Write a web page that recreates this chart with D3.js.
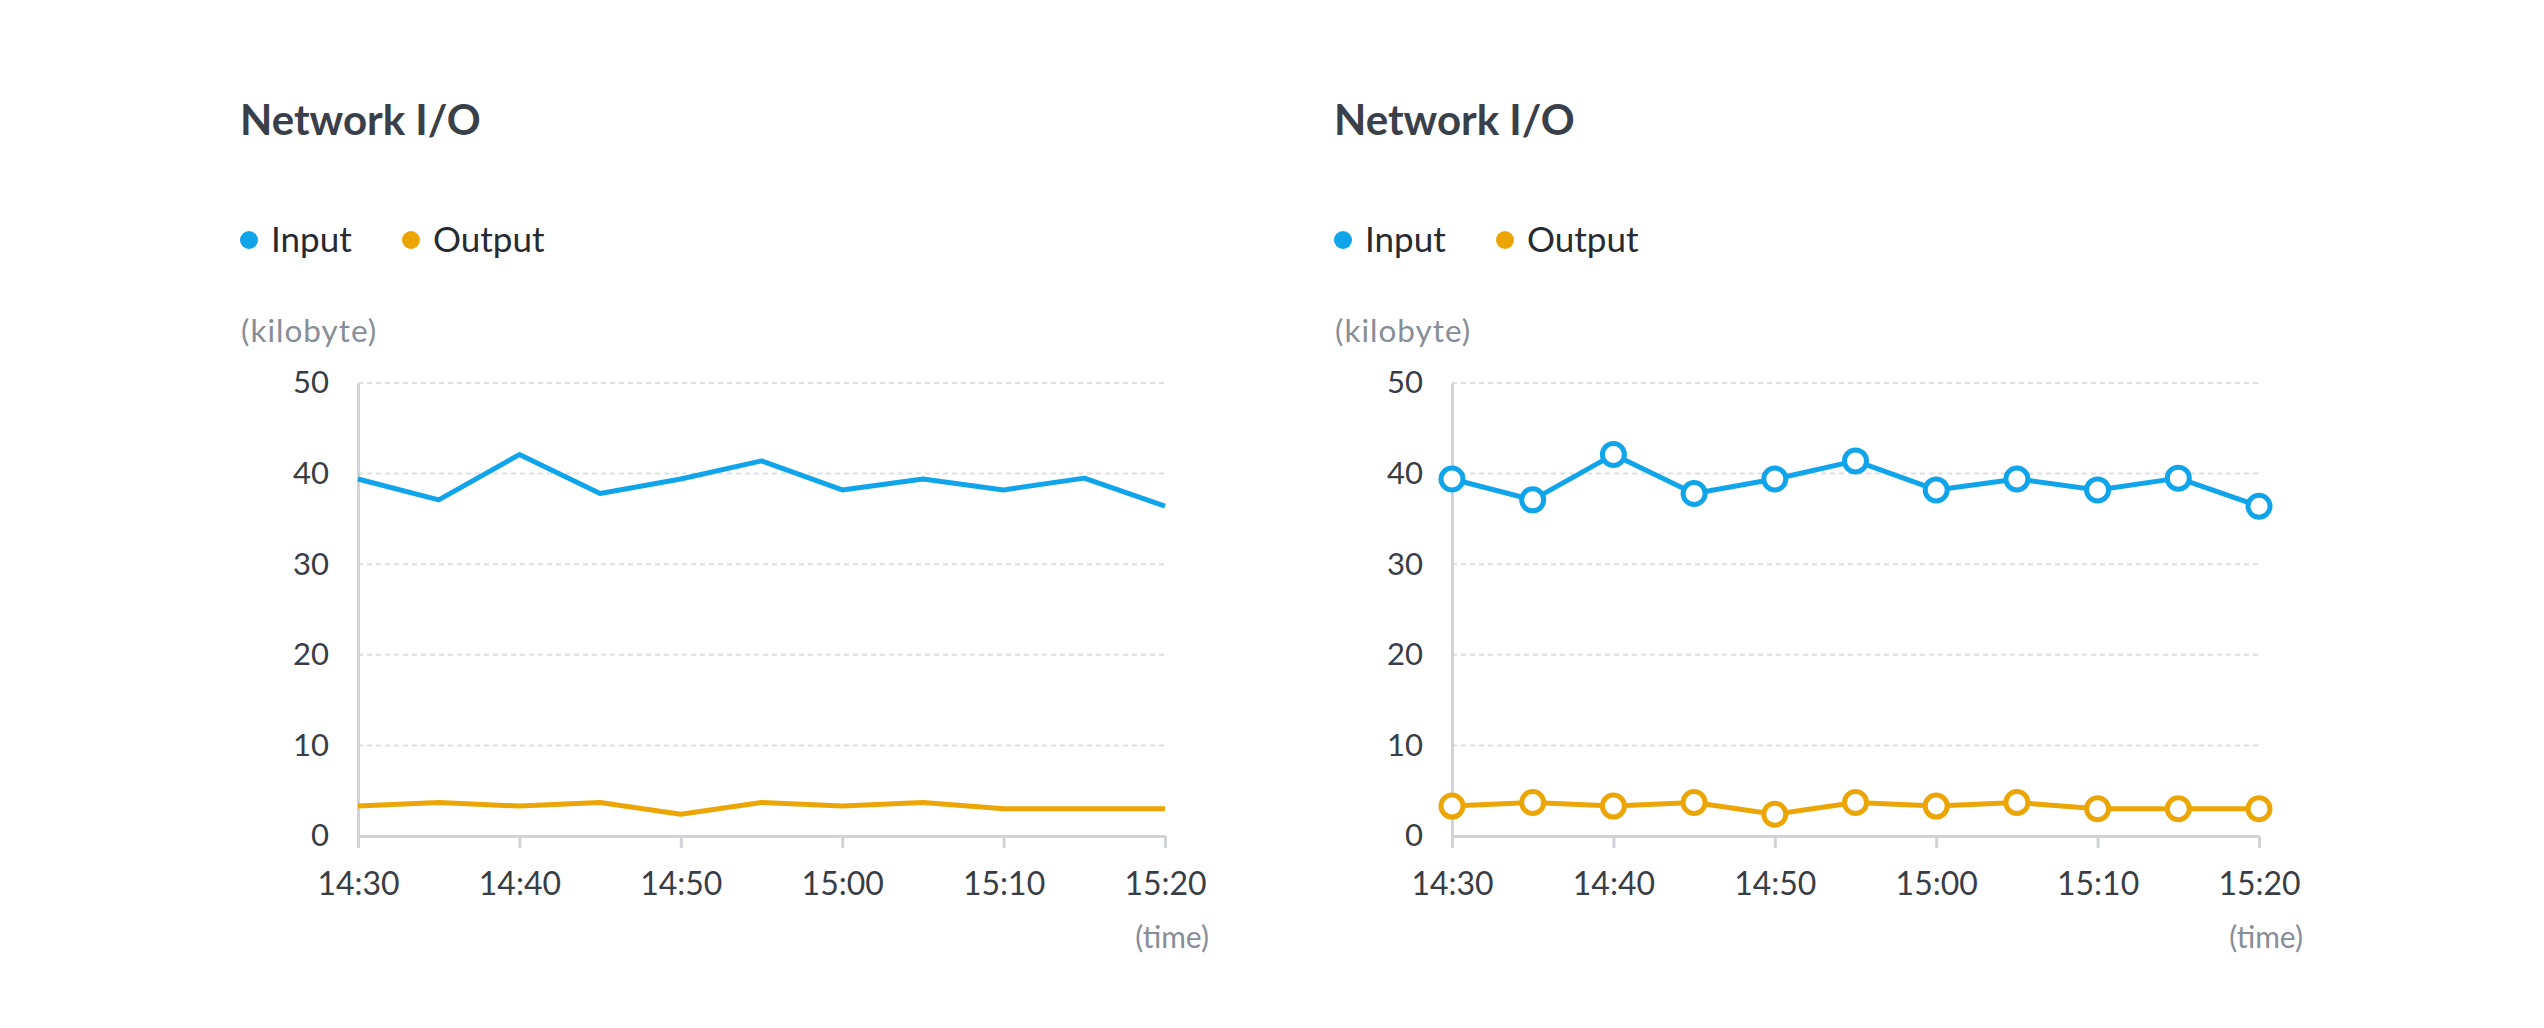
<!DOCTYPE html>
<html>
<head>
  <style type="text/css">
    body { margin: 0; background: #fff; }
    svg text { font-family: Lato, "Open Sans", sans-serif; }
  </style>
</head>
<body>
  <svg width="2544" height="1028" id="chart"></svg>

  <script src="https://d3js.org/d3.v7.min.js"></script>
  <script>

// values
const times = ['14:30', '14:35', '14:40', '14:45', '14:50', '14:55', '15:00', '15:05', '15:10', '15:15', '15:20']
const inputValues = [39.4, 37.1, 42.1, 37.8, 39.4, 41.4, 38.2, 39.4, 38.2, 39.5, 36.4]
const outputValues = [3.3, 3.7, 3.3, 3.7, 2.4, 3.7, 3.3, 3.7, 3.0, 3.0, 3.0]
const seriesNames = ['Input', 'Output']
const seriesColors = ['#10a5ea', '#eba605']
const yTicks = [0, 10, 20, 30, 40, 50]
const xTicks = ['14:30', '14:40', '14:50', '15:00', '15:10', '15:20']

const parse = d3.timeParse('%H:%M')

function translate(x, y) { return 'translate(' + x + ',' + y + ')'; }

function Panel(svg, offsetX, withDots) {
  let g = svg.append('g').attr('transform', translate(offsetX, 0))
  let left = 358, right = 1165, top = 383, bottom = 836

  let x = d3.scaleTime()
    .domain([parse(times[0]), parse(times[times.length - 1])])
    .range([left, right])
  let y = d3.scaleLinear().domain([0, 50]).range([bottom, top])

  g.append('text')
    .attr('x', 240).attr('y', 135)
    .attr('font-size', 42).attr('font-weight', 700)
    .attr('fill', '#3a404a')
    .text('Network I/O')

  // legend
  let legendX = [249, 411]
  seriesNames.forEach((name, i) => {
    g.append('circle')
      .attr('cx', legendX[i]).attr('cy', 240).attr('r', 9)
      .attr('fill', seriesColors[i])
    g.append('text')
      .attr('x', legendX[i] + 22).attr('y', 252)
      .attr('font-size', 35).attr('fill', '#262a31')
      .text(name)
  })

  g.append('text')
    .attr('x', 241).attr('y', 342)
    .attr('font-size', 31.5).attr('letter-spacing', 1)
    .attr('fill', '#878e99')
    .text('(kilobyte)')

  // grid
  g.append('g')
    .selectAll('line')
    .data(yTicks.filter(d => d > 0))
    .enter()
    .append('line')
      .attr('x1', left).attr('x2', right)
      .attr('y1', d => y(d)).attr('y2', d => y(d))
      .attr('stroke', '#dcdfe4')
      .attr('stroke-width', 2)
      .attr('stroke-dasharray', '5 4')

  // y axis
  let yAxis = g.append('g')
    .attr('transform', translate(left, 0))
    .call(d3.axisLeft(y).tickValues(yTicks).tickSize(0).tickPadding(29))
  yAxis.select('.domain').attr('stroke', '#d0d3d8').attr('stroke-width', 3)
  yAxis.selectAll('text')
    .attr('font-size', 31).attr('fill', '#383d46')
    .attr('font-family', 'Lato, sans-serif')

  // x axis
  let xAxis = g.append('g')
    .attr('transform', translate(0, bottom))
    .call(d3.axisBottom(x)
      .tickValues(xTicks.map(parse))
      .tickFormat(d3.timeFormat('%H:%M'))
      .tickSizeInner(12).tickSizeOuter(0).tickPadding(24))
  xAxis.select('.domain').attr('stroke', '#d0d3d8').attr('stroke-width', 3)
  xAxis.selectAll('.tick line').attr('stroke', '#d0d3d8').attr('stroke-width', 3)
  xAxis.selectAll('text')
    .attr('font-size', 32).attr('fill', '#383d46')
    .attr('font-family', 'Lato, sans-serif')

  g.append('text')
    .attr('x', 1209).attr('y', 948)
    .attr('text-anchor', 'end')
    .attr('font-size', 30).attr('fill', '#878e99')
    .text('(time)')

  let line = d3.line().x(d => x(parse(d[0]))).y(d => y(d[1]))
  let series = [inputValues, outputValues].map(vals => times.map((t, i) => [t, vals[i]]))

  series.forEach((data, i) => {
    g.append('path')
      .datum(data)
      .attr('fill', 'none')
      .attr('stroke', seriesColors[i])
      .attr('stroke-width', 5)
      .attr('stroke-linejoin', 'round')
      .attr('d', line)

    if (withDots) {
      g.append('g')
        .selectAll('circle')
        .data(data)
        .enter()
        .append('circle')
          .attr('cx', d => x(parse(d[0])))
          .attr('cy', d => y(d[1]))
          .attr('r', 11)
          .attr('fill', '#fff')
          .attr('stroke', seriesColors[i])
          .attr('stroke-width', 5)
    }
  })
}

let svg = d3.select('#chart')
Panel(svg, 0, false)
Panel(svg, 1094, true)

  </script>
</body>
</html>
